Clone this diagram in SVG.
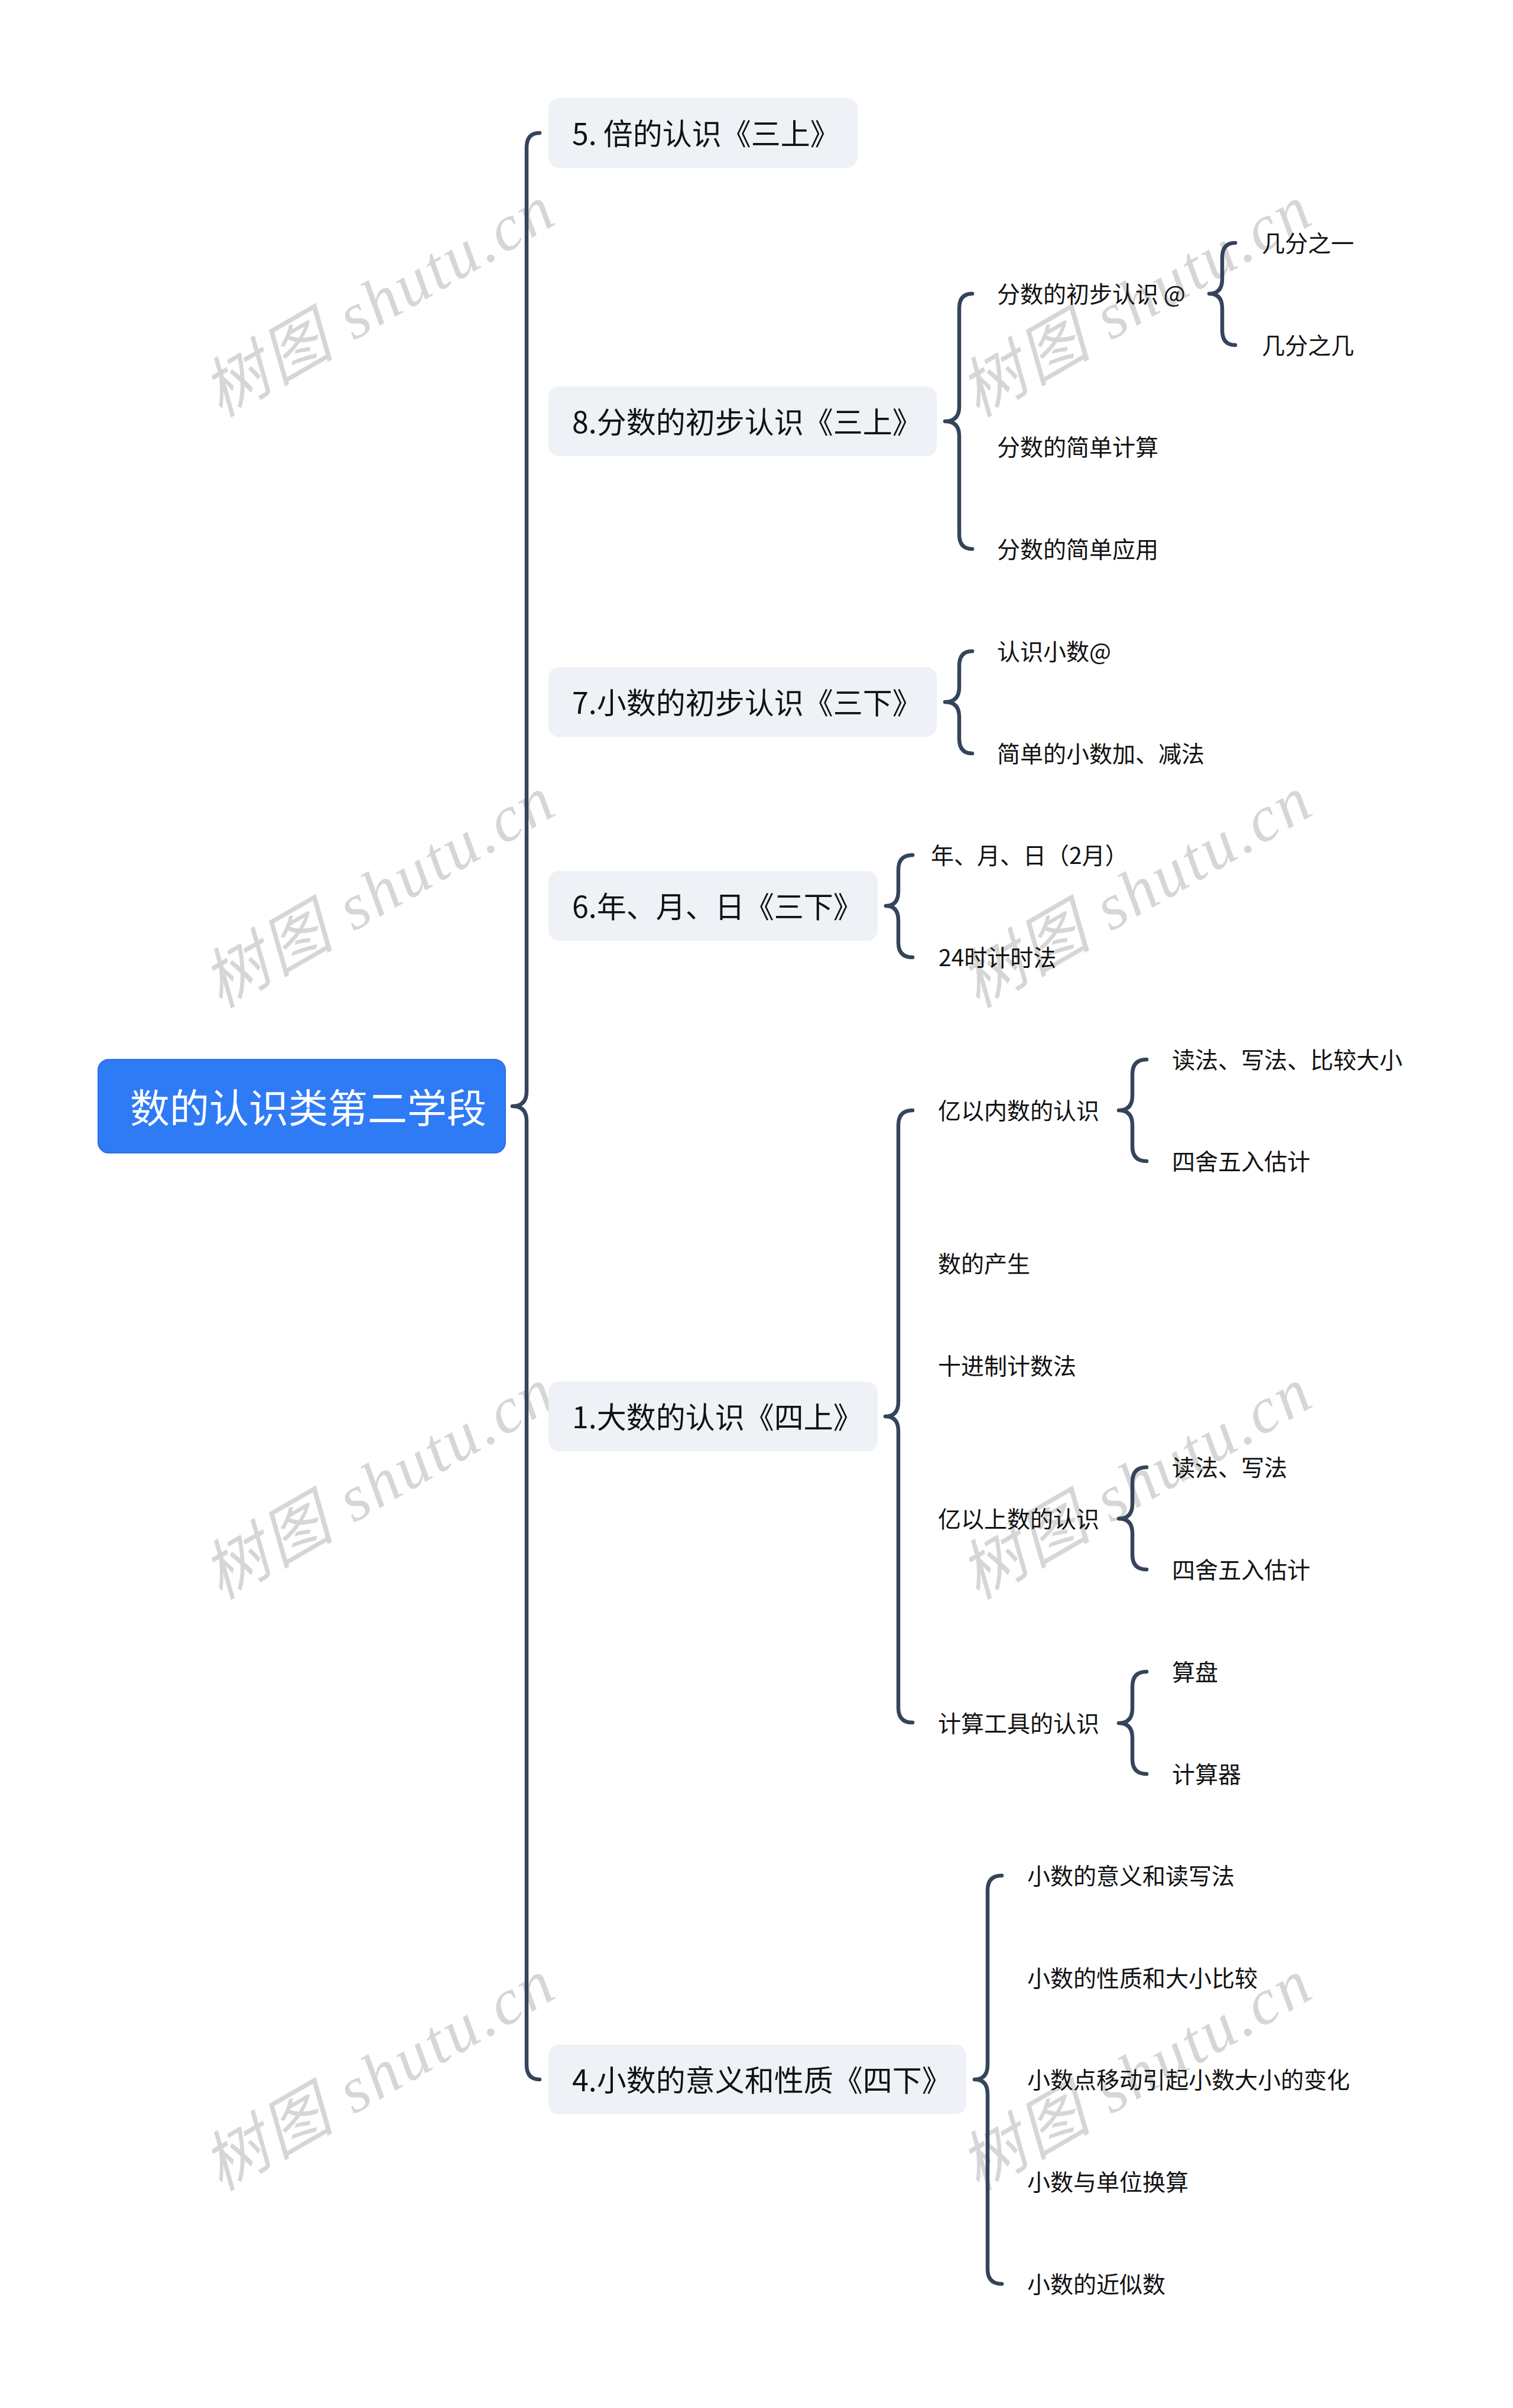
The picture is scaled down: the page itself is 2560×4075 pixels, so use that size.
<svg xmlns="http://www.w3.org/2000/svg" width="2560" height="4075" viewBox="0 0 2560 4075">
<style>
.wm{font-family:"Liberation Serif","Noto Sans CJK SC",serif;font-style:italic;font-size:110px;fill:#D6D6D6;text-anchor:middle;dominant-baseline:central}
.br{fill:none;stroke:#34445B;stroke-width:6.5;stroke-linecap:round;stroke-linejoin:round}
.box{fill:#EEF1F5}
.t1{font-family:"Noto Sans CJK SC","Noto Sans",sans-serif;font-size:50px;fill:#111;dominant-baseline:central}
.t2{font-family:"Noto Sans CJK SC","Noto Sans",sans-serif;font-size:39px;fill:#111;dominant-baseline:central}
.root{font-family:"Noto Sans CJK SC","Noto Sans",sans-serif;font-size:67px;fill:#fff;dominant-baseline:central}
</style>
<rect width="2560" height="4075" fill="#fff"/>
<g id="watermarks">
<text class="wm" transform="translate(640,510) rotate(-30)" textLength="660" lengthAdjust="spacing">树图 shutu.cn</text>
<text class="wm" transform="translate(640,1510) rotate(-30)" textLength="660" lengthAdjust="spacing">树图 shutu.cn</text>
<text class="wm" transform="translate(640,2511) rotate(-30)" textLength="660" lengthAdjust="spacing">树图 shutu.cn</text>
<text class="wm" transform="translate(640,3512) rotate(-30)" textLength="660" lengthAdjust="spacing">树图 shutu.cn</text>
<text class="wm" transform="translate(1921,510) rotate(-30)" textLength="660" lengthAdjust="spacing">树图 shutu.cn</text>
<text class="wm" transform="translate(1921,1510) rotate(-30)" textLength="660" lengthAdjust="spacing">树图 shutu.cn</text>
<text class="wm" transform="translate(1921,2511) rotate(-30)" textLength="660" lengthAdjust="spacing">树图 shutu.cn</text>
<text class="wm" transform="translate(1921,3512) rotate(-30)" textLength="660" lengthAdjust="spacing">树图 shutu.cn</text>
</g>
<g id="connectors">
<path class="br" d="M913 225 Q891 225 891 250 L891 1847 Q891 1872 867 1872 Q891 1872 891 1897 L891 3494 Q891 3519 913 3519"/>
<path class="br" d="M1645 497 Q1623 497 1623 522 L1623 688 Q1623 713 1599 713 Q1623 713 1623 738 L1623 904 Q1623 929 1645 929"/>
<path class="br" d="M2090 411 Q2068 411 2068 436 L2068 472 Q2068 497 2046 497 Q2068 497 2068 522 L2068 559 Q2068 584 2090 584"/>
<path class="br" d="M1645 1102 Q1623 1102 1623 1127 L1623 1163 Q1623 1188 1599 1188 Q1623 1188 1623 1213 L1623 1250 Q1623 1275 1645 1275"/>
<path class="br" d="M1544 1447 Q1520 1447 1520 1472 L1520 1508 Q1520 1533 1499 1533 Q1520 1533 1520 1558 L1520 1595 Q1520 1620 1544 1620"/>
<path class="br" d="M1544 1879 Q1520 1879 1520 1904 L1520 2372 Q1520 2397 1498 2397 Q1520 2397 1520 2422 L1520 2890 Q1520 2915 1544 2915"/>
<path class="br" d="M1940 1793 Q1916 1793 1916 1818 L1916 1854 Q1916 1879 1893 1879 Q1916 1879 1916 1904 L1916 1940 Q1916 1965 1940 1965"/>
<path class="br" d="M1940 2483 Q1916 2483 1916 2508 L1916 2545 Q1916 2570 1893 2570 Q1916 2570 1916 2595 L1916 2631 Q1916 2656 1940 2656"/>
<path class="br" d="M1940 2829 Q1916 2829 1916 2854 L1916 2891 Q1916 2916 1893 2916 Q1916 2916 1916 2941 L1916 2977 Q1916 3002 1940 3002"/>
<path class="br" d="M1695 3174 Q1671 3174 1671 3199 L1671 3494 Q1671 3519 1649 3519 Q1671 3519 1671 3544 L1671 3840 Q1671 3865 1695 3865"/>
</g>
<g id="root">
<rect x="166" y="1793" width="689" height="158" rx="18" fill="#2F7BF6" stroke="#2A6FE6" stroke-width="2"/>
<text class="root" x="220" y="1870">数的认识类第二学段</text>
</g>
<g id="n5"><rect class="box" x="928" y="166" width="523" height="118" rx="18"/><text class="t1" x="968" y="223">5. 倍的认识《三上》</text></g>
<g id="n8"><rect class="box" x="928" y="654" width="657" height="118" rx="18"/><text class="t1" x="968" y="711">8.分数的初步认识《三上》</text></g>
<g id="n7"><rect class="box" x="928" y="1129" width="657" height="118" rx="18"/><text class="t1" x="968" y="1186">7.小数的初步认识《三下》</text></g>
<g id="n6"><rect class="box" x="928" y="1474" width="557" height="118" rx="18"/><text class="t1" x="968" y="1531">6.年、月、日《三下》</text></g>
<g id="n1"><rect class="box" x="928" y="2338" width="557" height="118" rx="18"/><text class="t1" x="968" y="2395">1.大数的认识《四上》</text></g>
<g id="n4"><rect class="box" x="928" y="3460" width="707" height="118" rx="18"/><text class="t1" x="968" y="3517">4.小数的意义和性质《四下》</text></g>
<g id="n8a"><text class="t2" x="1687" y="495">分数的初步认识 @</text></g>
<g id="n8a1"><text class="t2" x="2135" y="409">几分之一</text></g>
<g id="n8a2"><text class="t2" x="2135" y="582">几分之几</text></g>
<g id="n8b"><text class="t2" x="1687" y="754">分数的简单计算</text></g>
<g id="n8c"><text class="t2" x="1687" y="927">分数的简单应用</text></g>
<g id="n7a"><text class="t2" x="1687" y="1100">认识小数@</text></g>
<g id="n7b"><text class="t2" x="1687" y="1273">简单的小数加、减法</text></g>
<g id="n6a"><text class="t2" x="1575" y="1445">年、月、日（2月）</text></g>
<g id="n6b"><text class="t2" x="1588" y="1618">24时计时法</text></g>
<g id="n1a"><text class="t2" x="1587" y="1877">亿以内数的认识</text></g>
<g id="n1a1"><text class="t2" x="1983" y="1791">读法、写法、比较大小</text></g>
<g id="n1a2"><text class="t2" x="1983" y="1963">四舍五入估计</text></g>
<g id="n1b"><text class="t2" x="1587" y="2136">数的产生</text></g>
<g id="n1c"><text class="t2" x="1587" y="2309">十进制计数法</text></g>
<g id="n1d"><text class="t2" x="1587" y="2568">亿以上数的认识</text></g>
<g id="n1d1"><text class="t2" x="1983" y="2481">读法、写法</text></g>
<g id="n1d2"><text class="t2" x="1983" y="2654">四舍五入估计</text></g>
<g id="n1e"><text class="t2" x="1587" y="2914">计算工具的认识</text></g>
<g id="n1e1"><text class="t2" x="1983" y="2827">算盘</text></g>
<g id="n1e2"><text class="t2" x="1983" y="3000">计算器</text></g>
<g id="n4a"><text class="t2" x="1738" y="3172">小数的意义和读写法</text></g>
<g id="n4b"><text class="t2" x="1738" y="3345">小数的性质和大小比较</text></g>
<g id="n4c"><text class="t2" x="1738" y="3517">小数点移动引起小数大小的变化</text></g>
<g id="n4d"><text class="t2" x="1738" y="3690">小数与单位换算</text></g>
<g id="n4e"><text class="t2" x="1738" y="3863">小数的近似数</text></g>
</svg>
